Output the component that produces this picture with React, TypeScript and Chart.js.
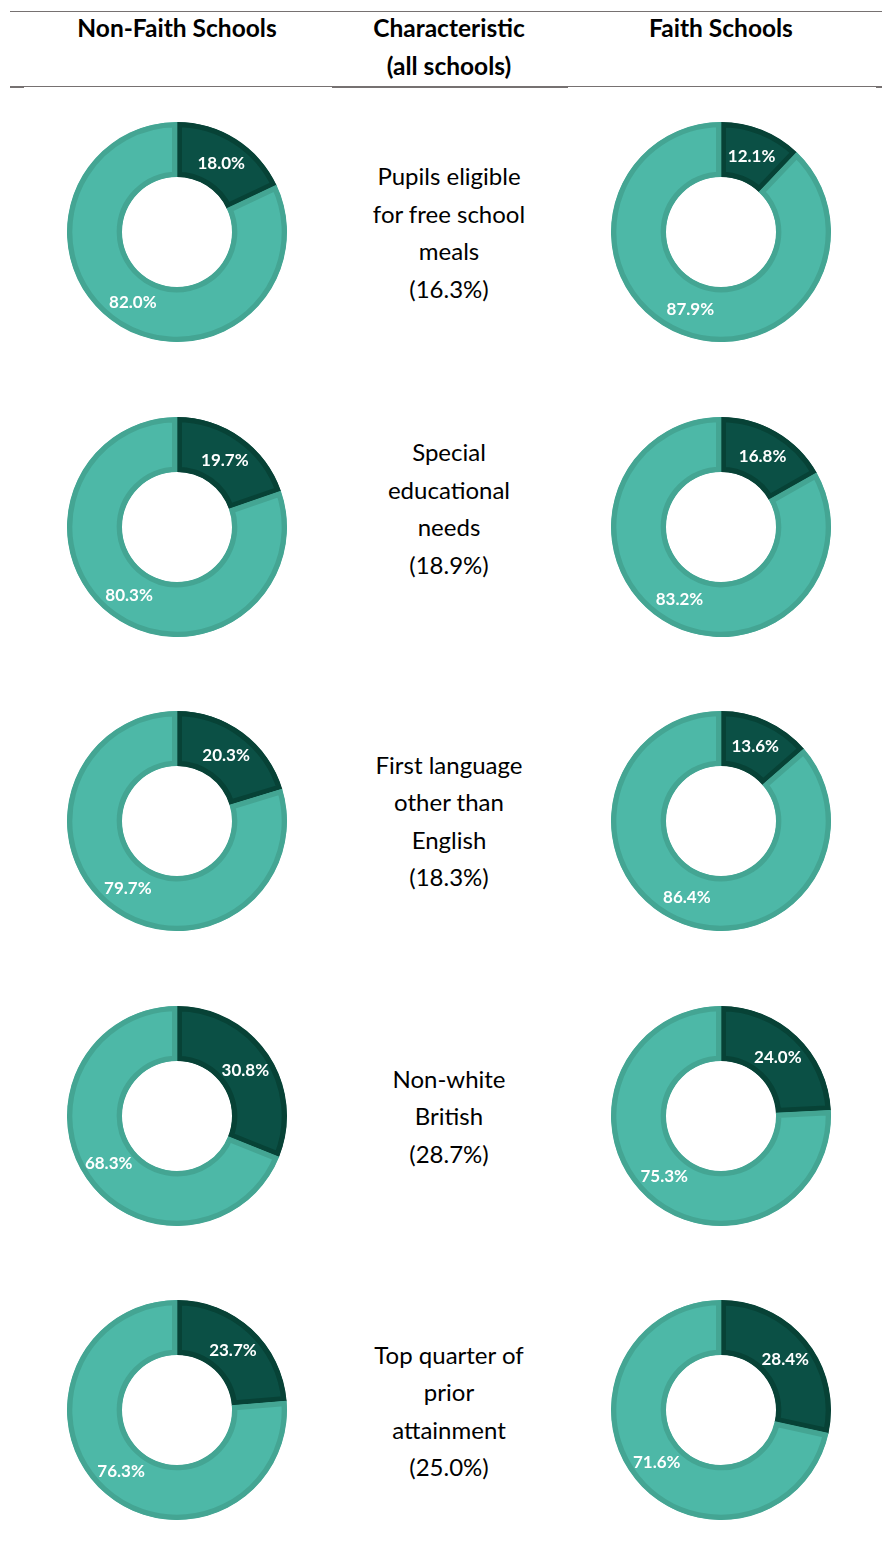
import React, { useEffect, useRef } from "react";
import { Chart, registerables } from "chart.js";

Chart.register(...registerables);

// ---- Data ----
const characteristicLines: string[][] = [
  ["Pupils eligible", "for free school", "meals"],
  ["Special", "educational", "needs"],
  ["First language", "other than", "English"],
  ["Non-white", "British"],
  ["Top quarter of", "prior", "attainment"],
];
const allSchools = [16.3, 18.9, 18.3, 28.7, 25.0];
const nonFaithShare = [18.0, 19.7, 20.3, 30.8, 23.7];
const nonFaithRest = [82.0, 80.3, 79.7, 68.3, 76.3];
const faithShare = [12.1, 16.8, 13.6, 24.0, 28.4];
const faithRest = [87.9, 83.2, 86.4, 75.3, 71.6];
const headers = ["Non-Faith Schools", "Characteristic\n(all schools)", "Faith Schools"];

// ---- Layout / style constants ----
const FONT = "Lato, 'Open Sans', sans-serif";
const DARK = "#0b5045";
const DARK_BORDER = "#074236";
const LIGHT = "#4db8a7";
const LIGHT_BORDER = "#44a593";
const SIZE = 220;
const ROW0 = 232;
const ROW_STEP = 294.5;
const LEFT_CX = 177;
const MID_CX = 449;
const RIGHT_CX = 721;
const textShift = [0, -18.5, -0.5, 0.5, 0.5];

const labelPlugin = {
  id: "sliceLabels",
  afterDatasetsDraw(chart: any) {
    const ctx = chart.ctx;
    const meta = chart.getDatasetMeta(0);
    const data = chart.data.datasets[0].data as number[];
    ctx.save();
    ctx.fillStyle = "#ffffff";
    ctx.font = `bold 17px ${FONT}`;
    ctx.textAlign = "center";
    ctx.textBaseline = "middle";
    meta.data.forEach((arc: any, i: number) => {
      const p = arc.tooltipPosition();
      ctx.fillText(data[i].toFixed(1) + "%", p.x, p.y + 1);
    });
    ctx.restore();
  },
};

function Donut({ share, rest, cx, cy }: { share: number; rest: number; cx: number; cy: number }) {
  const ref = useRef<HTMLCanvasElement>(null);
  useEffect(() => {
    if (!ref.current) return;
    const chart = new Chart(ref.current, {
      type: "doughnut",
      data: {
        labels: ["Characteristic", "Other"],
        datasets: [
          {
            data: [share, rest],
            backgroundColor: [DARK, LIGHT],
            borderColor: [DARK_BORDER, LIGHT_BORDER],
            borderWidth: 5,
            borderAlign: "inner",
            hoverOffset: 0,
          } as any,
        ],
      },
      options: {
        animation: false,
        responsive: false,
        maintainAspectRatio: false,
        cutout: "50%",
        layout: { padding: 0 },
        plugins: { legend: { display: false }, tooltip: { enabled: false } },
        events: [],
      },
      plugins: [labelPlugin],
    });
    return () => chart.destroy();
  }, [share, rest]);
  return (
    <canvas
      ref={ref}
      width={SIZE}
      height={SIZE}
      style={{ position: "absolute", left: cx - SIZE / 2, top: cy - SIZE / 2, width: SIZE, height: SIZE }}
    />
  );
}

function Rule({ x1, x2, y, h }: { x1: number; x2: number; y: number; h: number }) {
  return <div style={{ position: "absolute", left: x1, top: y, width: x2 - x1, height: h, background: "#767171" }} />;
}

export default function App() {
  const headerCenters = [LEFT_CX, MID_CX, RIGHT_CX];
  return (
    <div style={{ position: "absolute", left: 0, top: 0, width: 882, height: 1555, background: "#fff", overflow: "hidden", fontFamily: FONT, color: "#000" }}>
      <Rule x1={10} x2={882} y={11} h={1} />
      <Rule x1={10} x2={882} y={86} h={1} />
      <Rule x1={10} x2={24} y={86} h={2} />
      <Rule x1={332} x2={568} y={86} h={2} />
      <Rule x1={876} x2={882} y={86} h={2} />
      {headers.map((h, i) => (
        <div
          key={i}
          style={{
            position: "absolute",
            left: headerCenters[i] - 150,
            width: 300,
            top: 9,
            textAlign: "center",
            fontWeight: "bold",
            fontSize: 24.5,
            lineHeight: "38px",
            whiteSpace: "pre",
          }}
        >
          {h}
        </div>
      ))}
      {characteristicLines.map((lines, i) => {
        const cy = ROW0 + i * ROW_STEP;
        const all = [...lines, `(${allSchools[i].toFixed(1)}%)`];
        const lh = 37.5;
        const h = all.length * lh;
        return (
          <React.Fragment key={i}>
            <Donut share={nonFaithShare[i]} rest={nonFaithRest[i]} cx={LEFT_CX} cy={cy} />
            <Donut share={faithShare[i]} rest={faithRest[i]} cx={RIGHT_CX} cy={cy} />
            <div
              style={{
                position: "absolute",
                left: MID_CX - 120,
                width: 240,
                top: cy + textShift[i] - h / 2,
                textAlign: "center",
                fontSize: 24,
                lineHeight: `${lh}px`,
                whiteSpace: "nowrap",
              }}
            >
              {all.map((l, j) => (
                <div key={j}>{l}</div>
              ))}
            </div>
          </React.Fragment>
        );
      })}
    </div>
  );
}
